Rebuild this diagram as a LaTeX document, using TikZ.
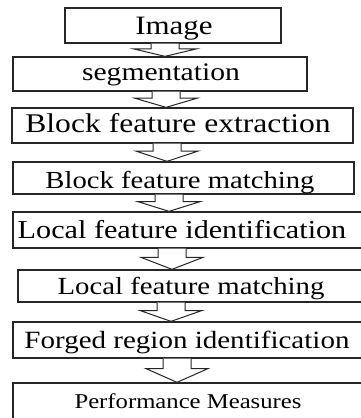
\documentclass[tikz,border=0pt]{standalone}
\usepackage{fontspec}
\setmainfont[FakeStretch=1.17]{Liberation Serif}
\usetikzlibrary{calc}
\begin{document}
\begin{tikzpicture}[x=1pt,y=-1pt,
  boxst/.style={draw=black!85, line width=1.3pt, inner sep=0pt, fill=none},
  lbl/.style={anchor=base, inner sep=0pt, text=black},
  barrowst/.style={draw=black!85, line width=1pt, fill=white, line join=miter}]
\useasboundingbox (0,0) rectangle (361,418);
\clip (0,0) rectangle (361,418);
\newcommand\mybox[5]{% name, x1, y1, x2, y2
  \node[boxst, minimum width={(#4-#2)*1pt}, minimum height={(#5-#3)*1pt}] (#1) at ({(#2+#4)/2},{(#3+#5)/2}) {};}
\newcommand\myarrow[3]{% from, to, centre x
  \draw[barrowst] let \p1=(#1.south), \p2=(#2.north) in
    ({#3pt-14pt},\y1) -- ({#3pt-14pt},{\y1+0.42*(\y2-\y1)}) -- ({#3pt-31pt},{\y1+0.42*(\y2-\y1)})
    -- ({#3pt},\y2) -- ({#3pt+31pt},{\y1+0.42*(\y2-\y1)}) -- ({#3pt+14pt},{\y1+0.42*(\y2-\y1)})
    -- ({#3pt+14pt},\y1);}
\mybox{b1}{65}{8}{281}{43}
\mybox{b2}{13}{57}{307}{91}
\mybox{b3}{12}{108}{353}{143}
\mybox{b4}{13}{162}{354}{194}
\mybox{b5}{13}{212}{370}{248}
\mybox{b6}{18}{270}{370}{302}
\mybox{b7}{13}{322}{370}{358}
\mybox{b8}{13}{383}{370}{420}
\node[lbl, font=\fontsize{26.5}{30}\selectfont] (t1) at (174,34) {Image};
\node[lbl, font=\fontsize{25.3}{30}\selectfont] (t2) at (161,80) {segmentation};
\node[lbl, font=\fontsize{27}{30}\selectfont] (t3) at (178,132) {Block feature extraction};
\node[lbl, font=\fontsize{24.5}{30}\selectfont] (t4) at (180,188) {Block feature matching};
\node[lbl, font=\fontsize{25.8}{30}\selectfont] (t5) at (182,238) {Local feature identification};
\node[lbl, font=\fontsize{24.6}{30}\selectfont] (t6) at (191,294) {Local feature matching};
\node[lbl, font=\fontsize{24.8}{30}\selectfont] (t7) at (187,348) {Forged region identification};
\node[lbl, font=\fontsize{21.1}{30}\selectfont] (t8) at (188,408) {Performance Measures};
\myarrow{b1}{b2}{165}
\myarrow{b2}{b3}{166}
\myarrow{b3}{b4}{167}
\myarrow{b4}{b5}{169}
\myarrow{b5}{b6}{172}
\myarrow{b6}{b7}{171}
\myarrow{b7}{b8}{177}
\end{tikzpicture}
\end{document}
